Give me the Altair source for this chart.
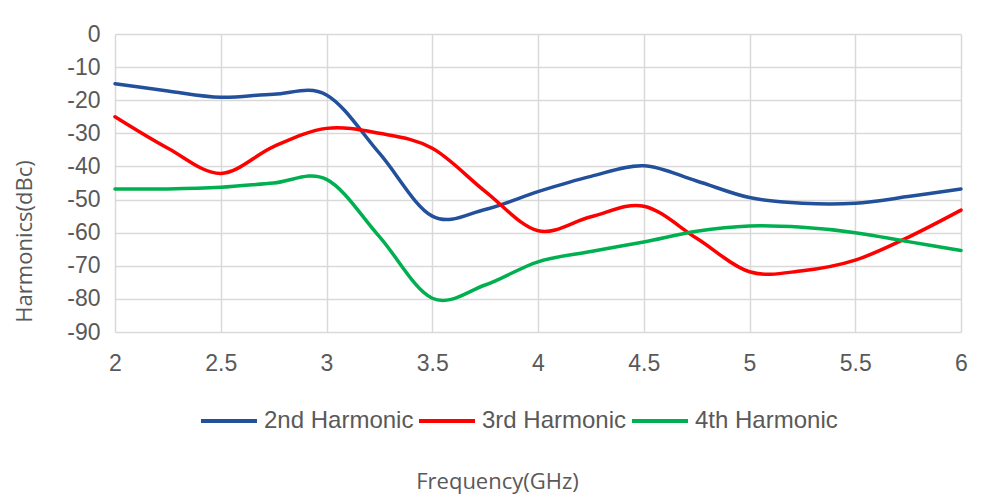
import altair as alt
import pandas as pd

freq = [2.0, 2.25, 2.5, 2.75, 3.0, 3.25, 3.5, 3.75, 4.0, 4.25, 4.5, 4.75, 5.0, 5.25, 5.5, 5.75, 6.0]
h2 = [-15.0, -17.2, -19.1, -18.2, -18.4, -36.0, -55.0, -53.0, -47.6, -43.0, -39.8, -44.4, -49.4, -51.1, -51.1, -49.1, -46.8]
h3 = [-25.0, -34.5, -42.1, -34.0, -28.5, -30.0, -34.5, -47.5, -59.4, -55.2, -52.0, -61.7, -71.8, -71.5, -68.3, -61.4, -53.2]
h4 = [-46.8, -46.8, -46.3, -45.0, -43.9, -61.2, -79.8, -75.8, -68.8, -65.7, -62.8, -59.6, -58.0, -58.4, -60.0, -62.7, -65.4]

series = ["2nd Harmonic", "3rd Harmonic", "4th Harmonic"]
colors = ["#23509A", "#FF0000", "#00B050"]
x_ticks = [2, 2.5, 3, 3.5, 4, 4.5, 5, 5.5, 6]
y_ticks = [0, -10, -20, -30, -40, -50, -60, -70, -80, -90]

rows = []
for name, vals in zip(series, [h2, h3, h4]):
    for f, v in zip(freq, vals):
        rows.append({"freq": f, "value": v, "series": name})
df = pd.DataFrame(rows)

chart = alt.Chart(df).mark_line(
    interpolate="cardinal", tension=0, strokeWidth=3.5, strokeCap="round"
).encode(
    x=alt.X("freq:Q",
            scale=alt.Scale(domain=[2, 6], nice=False, zero=False),
            axis=alt.Axis(values=x_ticks, labelExpr="toString(datum.value)",
                          labelFlush=False, labelBound=False,
                          title="Frequency(GHz)", titleX=382, titleY=149,
                          titleBaseline="middle", titleAlign="center",
                          labelPadding=20)),
    y=alt.Y("value:Q",
            scale=alt.Scale(domain=[-90, 0], nice=False),
            axis=alt.Axis(values=y_ticks, labelExpr="toString(datum.value)",
                          labelFlush=False, labelBound=False,
                          title="Harmonics(dBc)", titleX=-91, titleY=207,
                          titleBaseline="middle", titleAlign="center",
                          titleAngle=-90, labelPadding=15)),
    color=alt.Color("series:N",
                    scale=alt.Scale(domain=series, range=colors),
                    legend=alt.Legend(title=None, orient="none", legendX=84, legendY=357,
                                      direction="horizontal", symbolType="stroke",
                                      symbolSize=3136, symbolStrokeWidth=4,
                                      labelFontSize=24, labelFont="Liberation Sans",
                                      labelColor="#595959", labelOffset=5,
                                      columnPadding=-3, padding=0)),
).properties(
    width=846, height=298,
    autosize=alt.AutoSizeParams(type="none"),
    padding={"left": 107, "top": 26, "right": 23, "bottom": 162},
).configure_axis(
    grid=True, gridColor="#D9D9D9", gridWidth=1.5,
    domain=False, ticks=False,
    labelFont="Liberation Sans", labelFontSize=23, labelColor="#595959",
    titleFont="Open Sans", titleFontSize=22, titleColor="#595959", titleFontWeight="normal",
).configure_view(stroke=None)

chart.save("out.html", embed_options={"renderer": "svg", "actions": False})
